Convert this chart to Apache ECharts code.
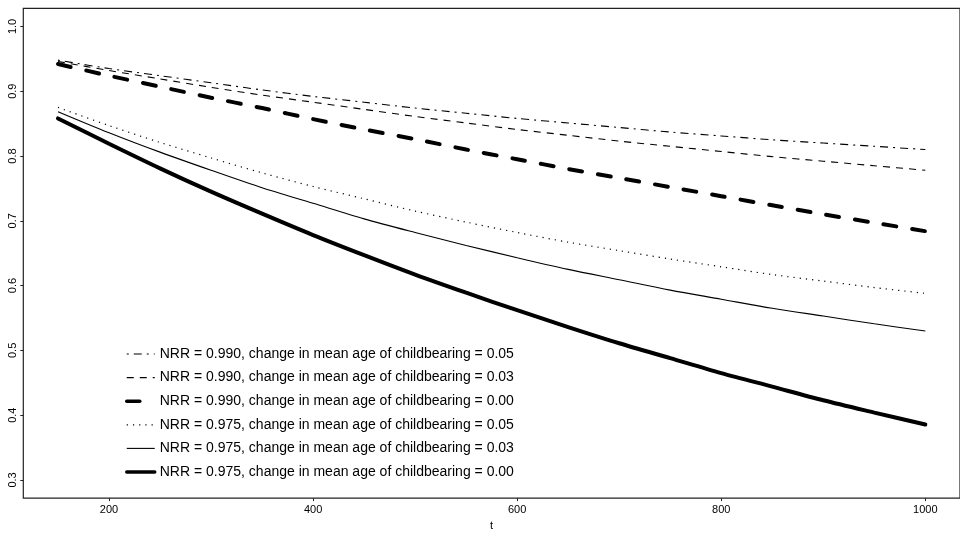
<!DOCTYPE html>
<html>
<head>
<meta charset="utf-8">
<script src="https://cdn.jsdelivr.net/npm/echarts@6/dist/echarts.min.js"></script>
<style>
html,body{margin:0;padding:0;background:#fff;}
#chart{width:960px;height:536px;}
</style>
</head>
<body>
<div id="chart"></div>
<script>
const tValues = [150,200,250,300,350,400,450,500,550,600,650,700,750,800,850,900,950,1000];
const xTicks = [200,400,600,800,1000];
const yTicks = [0.3,0.4,0.5,0.6,0.7,0.8,0.9,1.0];

const seriesNames = [
  'NRR = 0.990, change in mean age of childbearing = 0.05',
  'NRR = 0.990, change in mean age of childbearing = 0.03',
  'NRR = 0.990, change in mean age of childbearing = 0.00',
  'NRR = 0.975, change in mean age of childbearing = 0.05',
  'NRR = 0.975, change in mean age of childbearing = 0.03',
  'NRR = 0.975, change in mean age of childbearing = 0.00'
];

const nrr990_m05 = [0.948,0.935,0.924,0.913,0.902,0.892,0.883,0.874,0.866,0.858,0.851,0.844,0.837,0.831,0.825,0.820,0.815,0.810];
const nrr990_m03 = [0.946,0.932,0.919,0.906,0.894,0.883,0.872,0.861,0.851,0.841,0.832,0.823,0.815,0.807,0.799,0.792,0.785,0.778];
const nrr990_m00 = [0.942,0.924,0.907,0.890,0.874,0.857,0.841,0.826,0.810,0.795,0.780,0.766,0.752,0.738,0.724,0.710,0.697,0.684];
const nrr975_m05 = [0.875,0.847,0.821,0.797,0.774,0.753,0.734,0.715,0.698,0.682,0.667,0.654,0.641,0.629,0.617,0.607,0.597,0.588];
const nrr975_m03 = [0.8685,0.836,0.806,0.778,0.751,0.727,0.703,0.682,0.662,0.643,0.625,0.609,0.593,0.579,0.565,0.553,0.541,0.530];
const nrr975_m00 = [0.858,0.819,0.781,0.745,0.711,0.678,0.647,0.617,0.589,0.562,0.536,0.511,0.488,0.465,0.444,0.423,0.404,0.3855];

const allValues = [nrr990_m05,nrr990_m03,nrr990_m00,nrr975_m05,nrr975_m03,nrr975_m00];

const styles = [
  {width:1.1, type:[2,5,8,5], cap:'butt'},
  {width:1.1, type:[7,6], cap:'butt'},
  {width:4, type:[13,16], cap:'round'},
  {width:1.2, type:[1.2,5], cap:'butt'},
  {width:1.1, type:'solid', cap:'butt'},
  {width:4, type:'solid', cap:'round'}
];

const series = allValues.map((vals, i) => ({
  name: seriesNames[i],
  type: 'line',
  data: tValues.map((t, j) => [t, vals[j]]),
  symbol: 'none',
  smooth: 0.3,
  silent: true,
  color: '#000',
  itemStyle: {color: '#000'},
  lineStyle: {color:'#000', width:styles[i].width, type:styles[i].type, cap:styles[i].cap}
}));

const legendData = seriesNames.map((n, i) => ({
  name: n,
  lineStyle: {color: '#000', width: Math.min(styles[i].width, 3.5), type: styles[i].type, cap: styles[i].cap}
}));

const chart = echarts.init(document.getElementById('chart'), null, {renderer:'canvas'});
chart.setOption({
  animation: false,
  backgroundColor: '#fff',
  color: ['#000'],
  textStyle: {fontFamily: 'Liberation Sans, Arial, sans-serif'},
  grid: {left: 23.3, right: -2.8, top: 8.3, bottom: 25.3, show: true, borderColor: '#222', borderWidth: 1.2, containLabel: false},
  legend: {
    orient: 'vertical',
    left: 120,
    top: 342,
    itemWidth: 28,
    itemHeight: 14,
    itemGap: 9.6,
    itemStyle: {opacity: 0, borderWidth: 0},
    lineStyle: {width: 'inherit'},
    textStyle: {fontSize: 14, color: '#000', fontFamily: 'Liberation Sans, Arial, sans-serif'},
    data: legendData,
    selectedMode: false
  },
  xAxis: {
    type: 'value',
    min: 116,
    max: 1034,
    name: 't',
    nameLocation: 'middle',
    nameGap: 20,
    nameTextStyle: {fontSize: 11, color: '#000'},
    splitLine: {show: false},
    axisLine: {show: false},
    axisTick: {show: true, length: 3, inside: false, lineStyle: {color: '#222'}, customValues: xTicks},
    axisLabel: {fontSize: 11, color: '#000', margin: 6, customValues: xTicks, formatter: v => String(v)}
  },
  yAxis: {
    type: 'value',
    min: 0.272,
    max: 1.028,
    splitLine: {show: false},
    axisLine: {show: false},
    axisTick: {show: true, length: 3, inside: false, lineStyle: {color: '#222'}, customValues: yTicks},
    axisLabel: {fontSize: 11, color: '#000', margin: 5, rotate: 90, customValues: yTicks, formatter: v => v.toFixed(1)}
  },
  series: series
});
</script>
</body>
</html>
